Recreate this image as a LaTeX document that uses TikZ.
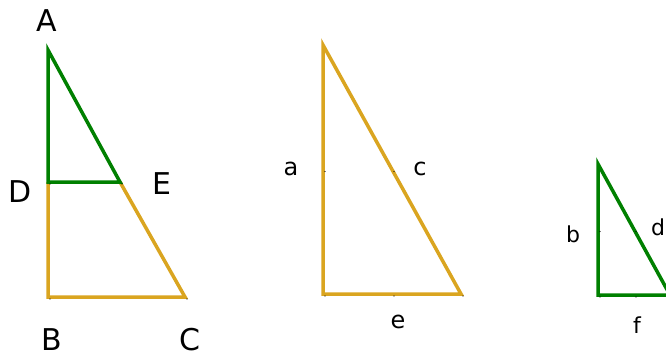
\documentclass[tikz,border=0pt]{standalone}
\usepackage{fontspec}
\setmainfont{DejaVu Sans}
\usetikzlibrary{positioning, calc}

\definecolor{sidegold}{RGB}{218,165,32}
\definecolor{sidegreen}{RGB}{0,128,0}

\begin{document}
\begin{tikzpicture}[
x=1pt, y=-1pt,
    bigside/.style={draw=sidegold, line width=3.5pt},
    smallside/.style={draw=sidegreen, line width=3.5pt},
    vertexlabel/.style={inner sep=0pt, font=\fontsize{30}{36}\selectfont},
    sidelabel/.style={inner sep=0pt, font=\fontsize{24}{28}\selectfont},
    smalllabel/.style={inner sep=0pt, font=\fontsize{22}{26}\selectfont},
    ptdot/.style={fill=black}
]
    \useasboundingbox (0,0) rectangle (666,357);
    \clip (0,0) rectangle (666,357);

    % ================= TRIANGLE ABC =================
    \coordinate (A) at (48, 50);
    \coordinate (D) at (48, 182);
    \coordinate (E) at (120, 182);
    \coordinate (B) at (48, 297);
    \coordinate (C) at (185, 297);

    \draw[bigside] (D) -- (B) -- (C) -- (E);
    \draw[smallside] (A) -- (D) -- (E) -- cycle;

    \node[vertexlabel] (lA) at (47, 21) {A};
    \node[vertexlabel] (lD) at (20, 192) {D};
    \node[vertexlabel] (lE) at (162, 184) {E};
    \node[vertexlabel] (lB) at (52, 340) {B};
    \node[vertexlabel] (lC) at (190, 340) {C};

    \foreach \p in {D, E, B, C}
        \fill[ptdot] ($(\p)+(2,2)$) circle (0.6);

    % ================= TRIANGLE a c e =================
    \coordinate (Top2) at (323, 45);
    \coordinate (Left2) at (323, 294);
    \coordinate (Right2) at (461, 294);

    \draw[bigside] (Top2) -- (Left2) -- (Right2) -- cycle;

    \node[sidelabel] (la) at (291, 169) {a};
    \node[sidelabel] (lc) at (420, 169) {c};
    \node[sidelabel] (le) at (398, 322) {e};

    \foreach \p in {Left2, Right2}
        \fill[ptdot] ($(\p)+(2,2)$) circle (0.6);
    \fill[ptdot] ($($(Top2)!0.5!(Left2)$)+(2,2)$) circle (0.6);
    \fill[ptdot] ($($(Top2)!0.5!(Right2)$)+(2,2)$) circle (0.6);
    \fill[ptdot] ($($(Left2)!0.5!(Right2)$)+(2,2)$) circle (0.6);

    % ================= TRIANGLE b d f =================
    \coordinate (Top3) at (598, 164);
    \coordinate (Left3) at (598, 295);
    \coordinate (Right3) at (670, 295);

    \draw[smallside] (Top3) -- (Left3) -- (Right3) -- cycle;

    \node[smalllabel] (lb) at (573, 234) {b};
    \node[smalllabel] (ld) at (658, 227) {d};
    \node[smalllabel] (lf) at (637, 325) {f};

    \fill[ptdot] ($(Left3)+(2,2)$) circle (0.6);
    \fill[ptdot] ($($(Top3)!0.5!(Left3)$)+(2,2)$) circle (0.6);
    \fill[ptdot] ($($(Top3)!0.5!(Right3)$)+(2,2)$) circle (0.6);
    \fill[ptdot] ($($(Left3)!0.5!(Right3)$)+(2,2)$) circle (0.6);

\end{tikzpicture}
\end{document}
